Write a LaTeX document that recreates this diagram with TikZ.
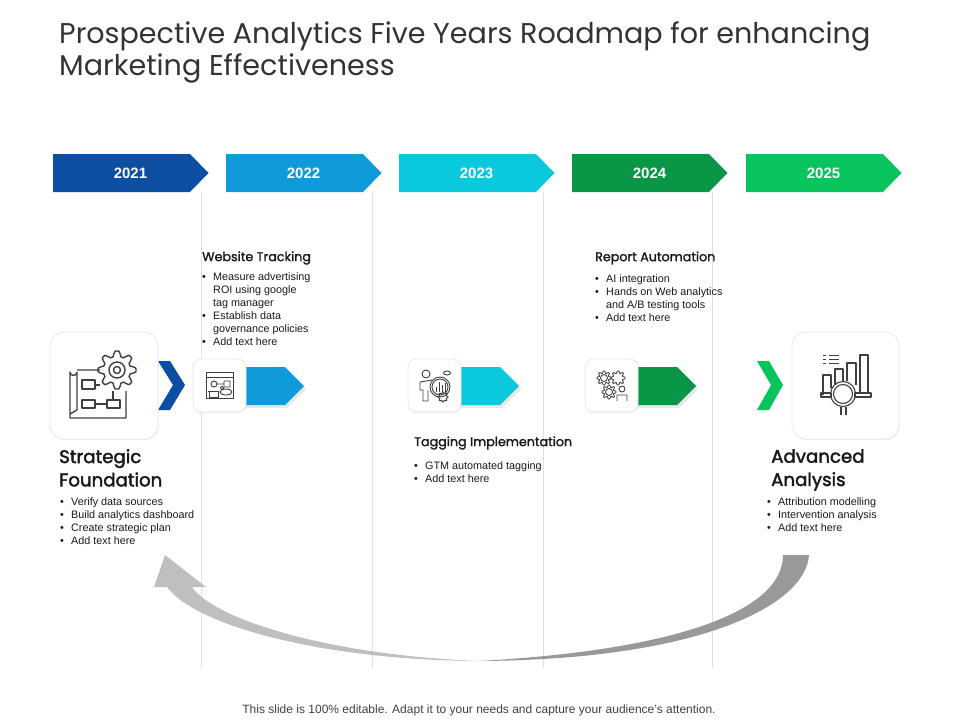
\documentclass[tikz,border=0pt]{standalone}
\usepackage{fontspec}
\setmainfont{Liberation Sans}
\newfontfamily\popfont{Poppins}
\newfontfamily\headfont[FakeBold=1.6]{Poppins}
\newfontfamily\bigheadfont[FakeBold=2.2]{Poppins}
\usetikzlibrary{shadows}
\definecolor{yrA}{HTML}{0B4EA2}
\definecolor{yrB}{HTML}{0F9BD9}
\definecolor{yrC}{HTML}{0BC9DC}
\definecolor{yrD}{HTML}{0A9647}
\definecolor{yrE}{HTML}{08C45C}
\definecolor{inkc}{HTML}{404040}
% bullet line and its continuation
\newcommand{\itm}{\makebox[11pt][l]{\textbullet}}
\newcommand{\cnt}{\makebox[11pt][l]{}}
% cog wheel: centre x, centre y, radius
\newcommand{\cogicon}[3]{
  \draw[icon] plot[samples=65,domain=0:360]
    ({#1+#3*(0.86+0.14*sign(cos(8*\x)))*cos(\x)},{#2+#3*(0.86+0.14*sign(cos(8*\x)))*sin(\x)});
}
\begin{document}
\begin{tikzpicture}[x=1pt,y=-1pt,
  icon/.style={draw=inkc, line width=0.9pt, line join=round},
  iconb/.style={draw=inkc, line width=1.4pt, line join=round},
  year/.style={font=\fontsize{15}{16}\bfseries, text=white},
  tile/.style={draw=black!9, fill=white, rounded corners=#1, line width=0.8pt,
    drop shadow={shadow xshift=0.6pt, shadow yshift=-1pt, opacity=0.15}},
  pent/.style={fill=#1, drop shadow={shadow xshift=2pt, shadow yshift=-3pt, opacity=0.18}},
  bigtitle/.style={font=\popfont\fontsize{28.6}{32}\selectfont, anchor=west, inner sep=0, text=black!80},
  headsm/.style={font=\headfont\fontsize{12.7}{14}\selectfont, anchor=west, inner sep=0, text=black!90},
  headbig/.style={font=\bigheadfont\fontsize{18.2}{23.3}\selectfont, anchor=north west, inner sep=0, align=left, text=black!90},
  blist/.style={font=\fontsize{10.8}{13}\selectfont, anchor=north west, inner sep=0, align=left, text=black!90},
  sep/.style={draw=black!12, line width=0.6pt}
]
  \useasboundingbox (0,0) rectangle (960,720);
  \node[bigtitle] (titleA) at (59,36) {Prospective Analytics Five Years Roadmap for enhancing};
  \node[bigtitle] (titleB) at (59,68) {Marketing Effectiveness};
  % separators
  \foreach \x in {201,372,543,712}
    \draw[sep] (\x,192) -- (\x,668);
  % year arrows
  \foreach \x/\c/\yr in {53/yrA/2021,226/yrB/2022,399/yrC/2023,572/yrD/2024,746/yrE/2025} {
    \fill[\c] (\x,154) -- ++(137,0) -- ++(18.5,19) -- ++(-18.5,19) -- ++(-137,0) -- cycle;
    \node[year] (y\yr) at (\x+77.5,173.5) {\yr};
  }
  % return arrow
  \fill[black!40] (809,555) .. controls (806,605) and (700,660) .. (478,661)
    .. controls (680,650) and (783,610) .. (783,555) -- cycle;
  \fill[black!25] (478,661) .. controls (320,660) and (195,625) .. (167,587)
    -- (154,587) -- (165,555) -- (206,587) -- (192,587)
    .. controls (215,620) and (330,655) .. (478,661) -- cycle;
  % chevrons
  \fill[yrA] (158,361) -- (170,361) -- (185,385) -- (170,410) -- (158,410) -- (173,385) -- cycle;
  \fill[yrE] (757,361) -- (769,361) -- (783,385) -- (769,410) -- (757,410) -- (771,385) -- cycle;
  % small arrows
  \foreach \x/\c in {240/yrB,455/yrC,632/yrD}
    \path[pent=\c] (\x,367) -- ++(45,0) -- ++(19,19) -- ++(-19,19) -- ++(-45,0) -- cycle;
  % tiles
  \node[tile=14pt, minimum width=108pt, minimum height=107pt] (tileA) at (104,385.5) {};
  \node[tile=14pt, minimum width=107pt, minimum height=107pt] (tileE) at (845.5,385.5) {};
  \node[tile=8pt, minimum width=53pt, minimum height=53pt] (tileB) at (219.5,385.5) {};
  \node[tile=8pt, minimum width=53pt, minimum height=53pt] (tileC) at (434.5,385.5) {};
  \node[tile=8pt, minimum width=53pt, minimum height=53pt] (tileD) at (611.5,385.5) {};
  % plan icon
  \draw[iconb] (100,370) -- (77,370) (77,372) arc[start angle=0,end angle=180,radius=3.5]
    -- (70,414) -- (70,418) -- (126,418) -- (126,391)
    (77,372) -- (77,410) -- (70,414);
  \draw[iconb] (82,380) rectangle (95,389) (82,400) rectangle (95,408) (107,400) rectangle (120,408)
    (95,385) -- (100,385) (95,404) -- (107,404) (113,400) -- (113,391);
  \begin{scope}[icon/.append style={line width=1.4pt}]
    \cogicon{117}{370}{19}
  \end{scope}
  \draw[iconb] (117,370) circle (8) (117,370) circle (3.5);
  % website icon
  \draw[icon] (206,372) rectangle (233,398) (206,377) -- (233,377);
  \draw[icon] (214,384) circle (3) (224,381) rectangle (230,387) (217,384) -- (224,384);
  \draw[icon] (209,391) rectangle (218,397) (208,391) -- (219,391);
  \draw[icon] (226,392) ellipse (6 and 3) (222,388) circle (1.8);
  % analyst icon
  \draw[icon] (426,374) circle (4) (420,382) -- (432,380) (420,382) -- (420,390) -- (423,390) -- (423,401) -- (428,401) -- (428,390);
  \draw[icon] (440,387) circle (10) (440,387) circle (8);
  \draw[icon] (436,392) -- (436,387) (439,392) -- (439,382) (442,392) -- (442,385) (445,392) -- (445,383);
  \cogicon{443}{397}{5}
  \draw[icon] (447,373) ellipse (3.5 and 2);
  % team cogs icon
  \cogicon{604}{378}{7}
  \cogicon{618}{378}{7}
  \cogicon{609}{392}{7}
  \draw[icon] (604,378) circle (3.5) (609,392) circle (3.5);
  \draw[icon] (622,389) circle (3) (617,401) -- (617,395) -- (627,395) -- (627,401);
  % analysis icon
  \draw[icon] (823,355) -- (826,355) (829,355) -- (839,355) (823,359) -- (826,359) (829,359) -- (839,359) (823,363) -- (826,363) (829,363) -- (839,363);
  \draw[icon, line width=1.1pt] (823,395) -- (823,375) -- (831,375) -- (831,388) (835,384) -- (835,369) -- (843,369) -- (843,381)
    (847,381) -- (847,363) -- (856,363) -- (856,385) (860,393) -- (860,355) -- (868,355) -- (868,393);
  \draw[icon, line width=1.1pt] (821,393) rectangle (831,397) (855,393) rectangle (871,397);
  \draw[icon, line width=1.1pt] (843,394) circle (12.5) (843,394) circle (9.5);
  \draw[icon, line width=1.1pt] (841,406.5) -- (841,415) (846,406.5) -- (846,415);
  % text blocks
  \node[headsm] (hB) at (202,258) {Website Tracking};
  \node[blist] (lB) at (202,272.5) {\itm Measure advertising\\\cnt ROI using google\\\cnt tag manager\\\itm Establish data\\\cnt governance policies\\\itm Add text here};
  \node[headsm] (hD) at (595,258) {Report Automation};
  \node[blist] (lD) at (595,274.5) {\itm AI integration\\\itm Hands on Web analytics\\\cnt and A/B testing tools\\\itm Add text here};
  \node[headsm] (hC) at (414,443) {Tagging Implementation};
  \node[blist] (lC) at (414,461.5) {\itm GTM automated tagging\\\itm Add text here};
  \node[headbig] (hA) at (59,449) {Strategic\\Foundation};
  \node[blist] (lA) at (60,497.5) {\itm Verify data sources\\\itm Build analytics dashboard\\\itm Create strategic plan\\\itm Add text here};
  \node[headbig] (hE) at (771,449) {Advanced\\Analysis};
  \node[blist] (lE) at (767,497.5) {\itm Attribution modelling\\\itm Intervention analysis\\\itm Add text here};
  \node[font=\fontsize{12}{14}\selectfont, text=black!75] (foot) at (479,710) {This slide is 100\% editable. Adapt it to your needs and capture your audience's attention.};
\end{tikzpicture}
\end{document}
